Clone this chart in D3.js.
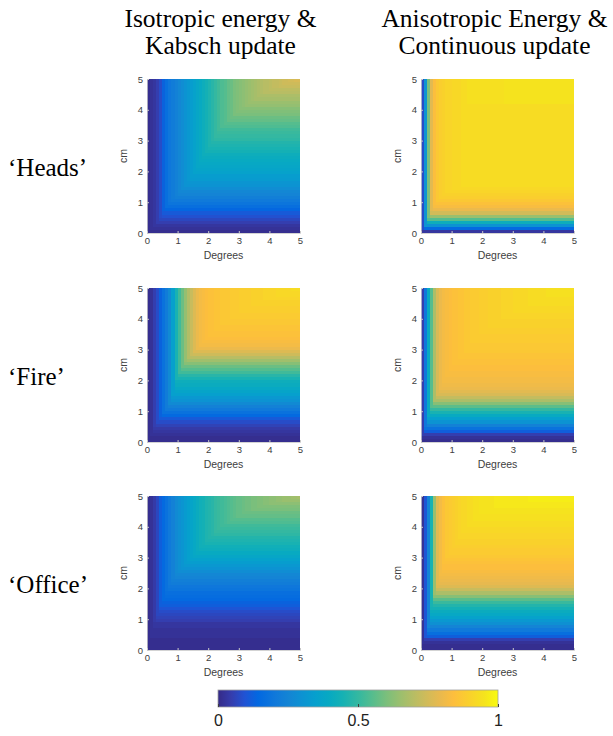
<!DOCTYPE html>
<html>
<head>
<meta charset="utf-8">
<script src="https://cdn.jsdelivr.net/npm/d3@7"></script>
<style>
  body { margin: 0; background: #fff; }
  svg { display: block; }
  .tick text { font-family: "Liberation Sans", Arial, Helvetica, sans-serif; }
</style>
</head>
<body>
<svg id="chart" width="613" height="736"></svg>
<script>
// thresholds (upper edge of each 0.1 bin), both axes
var steps = d3.range(1, 51).map(function(i) { return i / 10; });
var axisTicks = [0, 1, 2, 3, 4, 5];
var barTicks = [0, 0.5, 1];

var colTitles = [["Isotropic energy &", "Kabsch update"], ["Anisotropic Energy &", "Continuous update"]];
var rowNames = ["\u2018Heads\u2019", "\u2018Fire\u2019", "\u2018Office\u2019"];

// fraction correct along the top edge (cm = 5), per degree bin
var headsIsoRot = [0.01,0.02,0.03,0.05,0.08,0.13,0.17,0.20,0.22,0.24,0.26,0.28,0.30,0.32,0.34,0.36,0.38,0.40,0.42,0.44,0.46,0.48,0.50,0.52,0.54,0.55,0.57,0.58,0.60,0.61,0.62,0.63,0.64,0.65,0.66,0.67,0.68,0.69,0.70,0.70,0.71,0.72,0.72,0.73,0.74,0.74,0.75,0.75,0.76,0.76];
// fraction correct along the right edge (deg = 5), per cm bin
var headsIsoTrans = [0.01,0.02,0.03,0.05,0.07,0.09,0.11,0.14,0.17,0.19,0.21,0.23,0.25,0.26,0.28,0.30,0.31,0.33,0.34,0.36,0.37,0.38,0.39,0.40,0.41,0.42,0.44,0.45,0.46,0.47,0.49,0.50,0.51,0.52,0.54,0.55,0.57,0.58,0.60,0.61,0.62,0.64,0.65,0.67,0.68,0.70,0.71,0.73,0.74,0.76];

var headsAniRot = [0.08,0.30,0.60,0.78,0.84,0.87,0.89,0.90,0.91,0.91,0.92,0.92,0.92,0.93,0.93,0.94,0.94,0.94,0.94,0.94,0.94,0.94,0.94,0.94,0.94,0.94,0.94,0.95,0.95,0.95,0.95,0.95,0.95,0.95,0.95,0.95,0.95,0.95,0.95,0.95,0.95,0.95,0.95,0.95,0.95,0.95,0.95,0.95,0.95,0.95];
var headsAniTrans = [0.03,0.15,0.30,0.42,0.55,0.65,0.75,0.80,0.83,0.85,0.87,0.89,0.90,0.91,0.92,0.93,0.93,0.93,0.93,0.93,0.93,0.93,0.93,0.93,0.93,0.93,0.93,0.93,0.93,0.93,0.93,0.93,0.93,0.93,0.93,0.93,0.93,0.93,0.93,0.93,0.93,0.93,0.95,0.95,0.95,0.95,0.95,0.95,0.95,0.95];

var fireIsoRot = [0.01,0.02,0.05,0.08,0.13,0.18,0.22,0.27,0.35,0.45,0.52,0.58,0.64,0.69,0.73,0.77,0.80,0.82,0.83,0.84,0.85,0.85,0.86,0.86,0.87,0.87,0.87,0.88,0.88,0.88,0.89,0.89,0.89,0.89,0.90,0.90,0.90,0.90,0.91,0.91,0.91,0.91,0.92,0.92,0.92,0.92,0.92,0.93,0.93,0.93];
var fireIsoTrans = [0.01,0.01,0.02,0.03,0.04,0.06,0.08,0.11,0.15,0.18,0.21,0.24,0.27,0.30,0.32,0.35,0.37,0.39,0.41,0.42,0.45,0.48,0.52,0.55,0.58,0.62,0.66,0.70,0.74,0.77,0.80,0.82,0.83,0.84,0.85,0.85,0.86,0.86,0.87,0.87,0.88,0.88,0.89,0.89,0.90,0.90,0.91,0.92,0.92,0.93];

var fireAniRot = [0.05,0.20,0.40,0.55,0.68,0.76,0.80,0.82,0.83,0.84,0.85,0.85,0.86,0.86,0.87,0.87,0.88,0.88,0.88,0.89,0.89,0.89,0.90,0.90,0.90,0.90,0.91,0.91,0.91,0.91,0.92,0.92,0.92,0.92,0.92,0.93,0.93,0.93,0.93,0.93,0.93,0.94,0.94,0.94,0.94,0.94,0.94,0.94,0.94,0.94];
var fireAniTrans = [0.01,0.02,0.05,0.12,0.18,0.24,0.30,0.35,0.40,0.45,0.50,0.56,0.62,0.68,0.72,0.76,0.78,0.80,0.81,0.82,0.82,0.83,0.83,0.84,0.84,0.85,0.85,0.86,0.86,0.87,0.87,0.87,0.88,0.88,0.88,0.89,0.89,0.90,0.90,0.90,0.91,0.91,0.92,0.92,0.93,0.93,0.93,0.94,0.94,0.94];

var officeIsoRot = [0.01,0.02,0.04,0.07,0.12,0.15,0.18,0.21,0.24,0.27,0.29,0.31,0.33,0.35,0.37,0.39,0.41,0.43,0.44,0.46,0.47,0.48,0.50,0.51,0.52,0.53,0.54,0.55,0.56,0.57,0.57,0.58,0.59,0.59,0.60,0.60,0.61,0.61,0.62,0.62,0.63,0.63,0.64,0.64,0.65,0.65,0.65,0.66,0.66,0.67];
var officeIsoTrans = [0.01,0.01,0.01,0.01,0.02,0.02,0.02,0.03,0.03,0.05,0.06,0.07,0.08,0.10,0.12,0.13,0.15,0.16,0.17,0.19,0.20,0.22,0.23,0.25,0.26,0.28,0.30,0.32,0.34,0.36,0.38,0.40,0.42,0.43,0.45,0.46,0.47,0.49,0.50,0.51,0.52,0.54,0.55,0.57,0.58,0.60,0.61,0.63,0.65,0.67];

var officeAniRot = [0.02,0.10,0.25,0.45,0.65,0.78,0.82,0.85,0.87,0.88,0.89,0.90,0.91,0.92,0.92,0.93,0.93,0.94,0.94,0.95,0.95,0.95,0.95,0.95,0.96,0.96,0.96,0.96,0.96,0.96,0.96,0.96,0.96,0.96,0.96,0.97,0.97,0.97,0.97,0.97,0.97,0.97,0.97,0.97,0.97,0.97,0.97,0.97,0.97,0.97];
var officeAniTrans = [0.01,0.01,0.02,0.05,0.12,0.17,0.21,0.25,0.29,0.32,0.36,0.39,0.41,0.44,0.47,0.51,0.56,0.62,0.68,0.73,0.77,0.79,0.80,0.81,0.82,0.83,0.84,0.84,0.85,0.86,0.87,0.88,0.88,0.89,0.90,0.90,0.91,0.91,0.92,0.92,0.93,0.93,0.94,0.94,0.95,0.95,0.96,0.96,0.97,0.97];

var panels = [
	{row: 0, col: 0, rot: headsIsoRot, trans: headsIsoTrans},
	{row: 0, col: 1, rot: headsAniRot, trans: headsAniTrans},
	{row: 1, col: 0, rot: fireIsoRot, trans: fireIsoTrans},
	{row: 1, col: 1, rot: fireAniRot, trans: fireAniTrans},
	{row: 2, col: 0, rot: officeIsoRot, trans: officeIsoTrans},
	{row: 2, col: 1, rot: officeAniRot, trans: officeAniTrans}
];

// parula
var parula = ["#352a87","#353dad","#2053d4","#0268e1","#1079da","#1485d4","#0c93d2","#06a0cd","#07a9c2","#15b1b4",
	"#38b99e","#59bd8c","#7cbf7b","#9bbf6e","#b7bd64","#d1bb59","#e9b94e","#fdbe3d","#f9d32a","#f5e41d","#f9fb0e"];
var parulaPos = [0,3,6,9,13,16,19,22,25,28,32,35,38,41,44,47,50,53,57,60,63].map(function(d) { return d / 63; });
var color = d3.scaleLinear().domain(parulaPos).range(parula).clamp(true);

var svg = d3.select("#chart");
var colX = [147, 421];
var rowY = [79, 288, 496];
var w = 153, h = 154;
var sans = "'Liberation Sans', Arial, Helvetica, sans-serif";
var serif = "'Liberation Serif', 'Times New Roman', Times, serif";

var x = d3.scaleLinear().domain([0, 5]).range([0, w]);
var y = d3.scaleLinear().domain([0, 5]).range([h, 0]);

// column titles
colTitles.forEach(function(lines, c) {
	var cx = colX[c] + w / 2 - 3;
	var t = svg.append("text")
		.attr("x", cx)
		.attr("y", 27)
		.attr("text-anchor", "middle")
		.style("font-family", serif)
		.style("font-size", "25.5px")
		.style("fill", "#000");
	lines.forEach(function(l, k) {
		t.append("tspan").attr("x", cx).attr("dy", k == 0 ? 0 : 27).text(l);
	});
});

// row labels
rowNames.forEach(function(name, r) {
	svg.append("text")
		.attr("x", 8)
		.attr("y", rowY[r] + h / 2 + 20)
		.style("font-family", serif)
		.style("font-size", "25px")
		.style("fill", "#000")
		.text(name);
});

panels.forEach(function(p) {
	var g = svg.append("g").attr("transform", "translate(" + colX[p.col] + "," + rowY[p.row] + ")");

	var cells = [];
	for(var i = 0; i < steps.length; i++) {
		for(var j = 0; j < steps.length; j++) {
			cells.push({deg: steps[i], cm: steps[j], v: Math.min(p.rot[i], p.trans[j])});
		}
	}
	g.append("g").selectAll("rect")
		.data(cells)
		.enter()
		.append("rect")
		.attr("x", function(d) { return x(d.deg - 0.1); })
		.attr("y", function(d) { return y(d.cm); })
		.attr("width", x(0.1))
		.attr("height", h - y(0.1))
		.attr("shape-rendering", "crispEdges")
		.style("fill", function(d) { return color(d.v); });

	var xAxis = g.append("g")
		.attr("transform", "translate(0," + h + ")")
		.call(d3.axisBottom(x).tickValues(axisTicks).tickFormat(d3.format("d")).tickSize(-2).tickPadding(4));
	var yAxis = g.append("g")
		.call(d3.axisLeft(y).tickValues(axisTicks).tickFormat(d3.format("d")).tickSize(-2).tickPadding(4));
	[xAxis, yAxis].forEach(function(a) {
		a.select(".domain").style("stroke", "#c8c8c8").style("stroke-width", 0.8);
		a.selectAll(".tick line").style("stroke", "#c8c8c8");
		a.selectAll(".tick text").style("font-size", "9.5px").style("fill", "#404040");
	});

	g.append("text")
		.attr("x", w / 2)
		.attr("y", h + 26)
		.attr("text-anchor", "middle")
		.style("font-family", sans)
		.style("font-size", "10.5px")
		.style("fill", "#404040")
		.text("Degrees");
	g.append("text")
		.attr("transform", "translate(-20," + (h / 2) + ") rotate(-90)")
		.attr("text-anchor", "middle")
		.style("font-family", sans)
		.style("font-size", "10.5px")
		.style("fill", "#404040")
		.text("cm");
});

// colour bar
var barX = 218, barY = 690, barW = 280, barH = 17;
var grad = svg.append("defs").append("linearGradient").attr("id", "parula");
parula.forEach(function(c, i) {
	grad.append("stop").attr("offset", parulaPos[i]).attr("stop-color", c);
});
svg.append("rect")
	.attr("x", barX).attr("y", barY)
	.attr("width", barW).attr("height", barH)
	.style("fill", "url(#parula)")
	.style("stroke", "#a0a0a0")
	.style("stroke-width", 0.8);
var bx = d3.scaleLinear().domain([0, 1]).range([barX, barX + barW]);
var bar = svg.append("g")
	.attr("transform", "translate(0," + (barY + barH) + ")")
	.call(d3.axisBottom(bx).tickValues(barTicks).tickFormat(d3.format("")).tickSize(-3).tickPadding(8));
bar.select(".domain").remove();
bar.selectAll(".tick line").style("stroke", "#404040");
bar.selectAll(".tick text").style("font-size", "16px").style("fill", "#222");
</script>
</body>
</html>
